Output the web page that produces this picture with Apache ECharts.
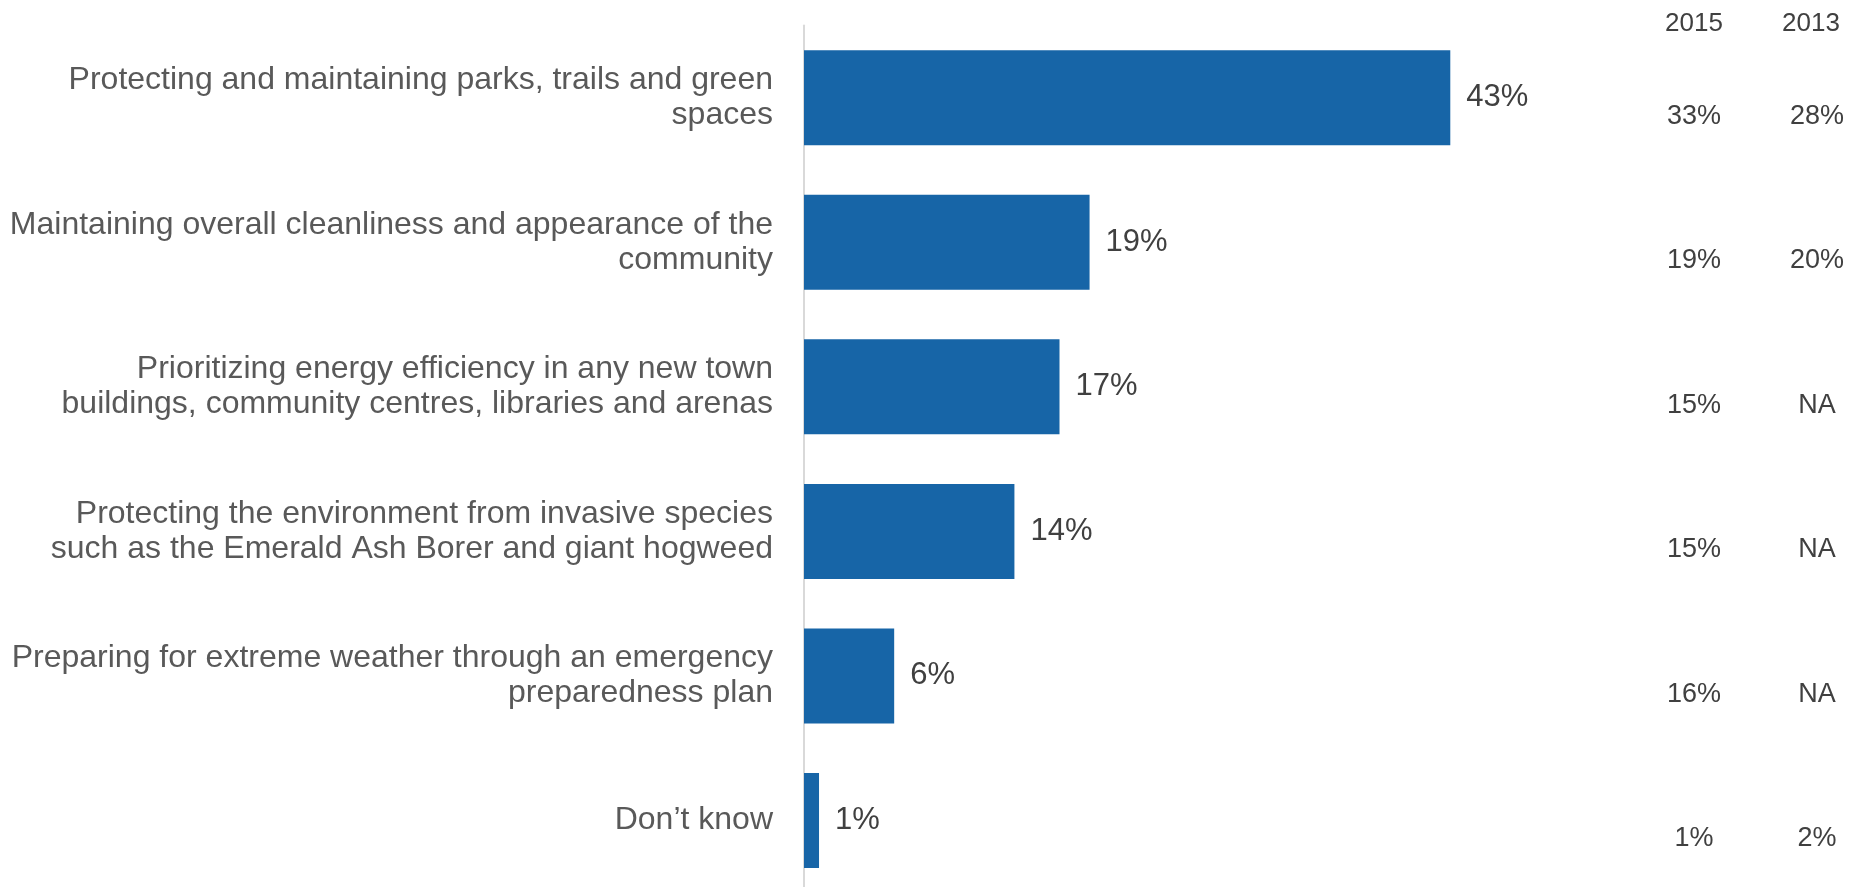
<!DOCTYPE html>
<html>
<head>
<meta charset="utf-8">
<title>Environmental priorities</title>
<script src="https://cdn.jsdelivr.net/npm/echarts@6/dist/echarts.min.js"></script>
<style>
  html, body { margin: 0; padding: 0; background: #ffffff; }
  #chart { width: 1853px; height: 887px; }
</style>
</head>
<body>
<div id="chart"></div>
<script>
// Priority categories (top to bottom)
const categories = [
  'Protecting and maintaining parks, trails and green\nspaces',
  'Maintaining overall cleanliness and appearance of the\ncommunity',
  'Prioritizing energy efficiency in any new town\nbuildings, community centres, libraries and arenas',
  'Protecting the environment from invasive species\nsuch as the Emerald Ash Borer and giant hogweed',
  'Preparing for extreme weather through an emergency\npreparedness plan',
  'Don\u2019t know'
];

// Current results (%)
const current = [43, 19, 17, 14, 6, 1];

// Earlier survey results (%), null = not asked that year
const results2015 = [33, 19, 15, 15, 16, 1];
const results2013 = [28, 20, null, null, null, 2];

// Column headings for the earlier surveys
const yearLabels = ['2015', '2013'];

const FONT = "'Liberation Sans', Arial, Helvetica, sans-serif";
const pct = v => (v === null || v === undefined) ? 'NA' : v + '%';

const chart = echarts.init(document.getElementById('chart'), null, { renderer: 'canvas' });

// Shared settings for the two comparison columns on the right
function yearColumn(name, values, offset, namePad) {
  return {
    type: 'category',
    position: 'right',
    inverse: true,
    offset: offset,
    data: categories,
    name: name,
    // axis is inverted, so its visual top is the 'start' end
    nameLocation: 'start',
    nameGap: 2,
    nameTextStyle: {
      fontFamily: FONT, fontSize: 26, color: '#404040',
      verticalAlign: 'middle', align: 'center', padding: namePad
    },
    axisLine: { show: false },
    axisTick: { show: false },
    splitLine: { show: false },
    axisLabel: {
      interval: 0,
      margin: 0,
      align: 'center',
      verticalAlign: 'top',
      lineHeight: 37,
      fontFamily: FONT,
      fontSize: 27,
      color: '#404040',
      formatter: (value, index) => pct(values[index])
    }
  };
}

chart.setOption({
  animation: false,
  backgroundColor: '#ffffff',
  grid: {
    left: 804,
    top: 25.4,
    width: 751.5,
    height: 867.4,
    containLabel: false,
    outerBoundsMode: 'none'
  },
  xAxis: {
    type: 'value',
    min: 0,
    max: 50,
    show: false
  },
  yAxis: [
    {
      type: 'category',
      inverse: true,
      data: categories,
      axisLine: { show: true, lineStyle: { color: '#d9d9d9', width: 2 } },
      axisTick: { show: false },
      splitLine: { show: false },
      axisLabel: {
        interval: 0,
        margin: 31,
        align: 'right',
        fontFamily: FONT,
        fontSize: 32,
        lineHeight: 35,
        color: '#595959'
      }
    },
    yearColumn(yearLabels[0], results2015, 138.5, [0, 0, 0, 0]),
    yearColumn(yearLabels[1], results2013, 261.5, [0, 12, 0, 0])
  ],
  series: [
    {
      type: 'bar',
      yAxisIndex: 0,
      data: current,
      barWidth: 95,
      itemStyle: { color: '#1765a7' },
      label: {
        show: true,
        position: 'right',
        distance: 16,
        fontFamily: FONT,
        fontSize: 31,
        color: '#404040',
        formatter: p => pct(p.value)
      }
    }
  ]
});
</script>
</body>
</html>
